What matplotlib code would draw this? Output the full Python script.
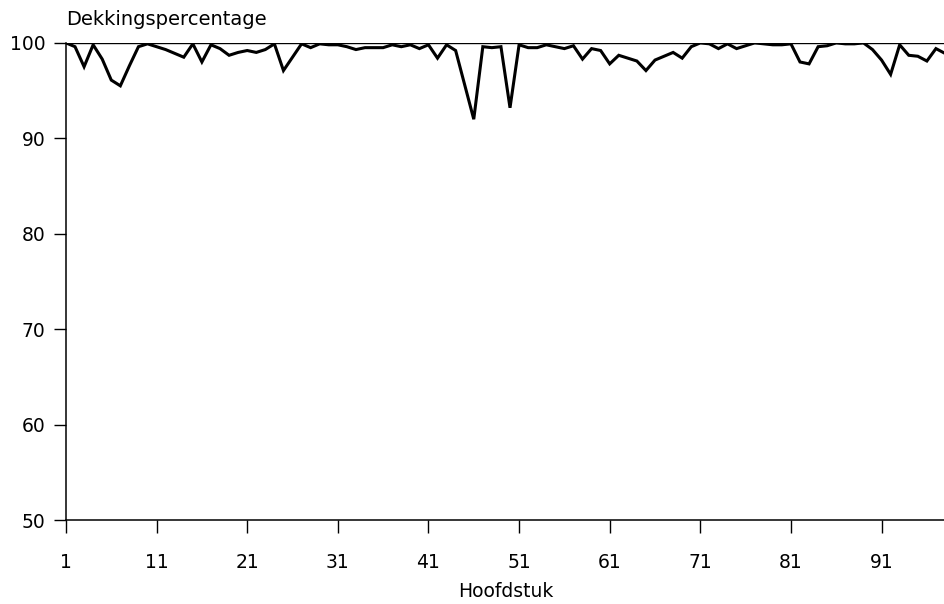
import matplotlib
matplotlib.use("Agg")
import matplotlib.pyplot as plt
import numpy as np

# Dekkingspercentage per hoofdstuk
hoofdstuk = np.arange(1, 99)
dekking = [
    100.0, 99.6, 97.5, 99.8, 98.3, 96.1, 95.5, 97.6, 99.6, 99.9,
    99.6, 99.3, 98.9, 98.5, 99.9, 98.0, 99.8, 99.4, 98.7, 99.0,
    99.2, 99.0, 99.3, 99.9, 97.1, 98.5, 99.9, 99.5, 99.9, 99.8,
    99.8, 99.6, 99.3, 99.5, 99.5, 99.5, 99.8, 99.6, 99.8, 99.4,
    99.8, 98.4, 99.8, 99.2, 95.6, 92.0, 99.6, 99.5, 99.6, 93.2,
    99.8, 99.5, 99.5, 99.8, 99.6, 99.4, 99.7, 98.3, 99.4, 99.2,
    97.8, 98.7, 98.4, 98.1, 97.1, 98.2, 98.6, 99.0, 98.4, 99.6,
    100.0, 99.9, 99.4, 99.9, 99.4, 99.7, 100.0, 99.9, 99.8, 99.8,
    99.9, 98.0, 97.8, 99.6, 99.7, 100.0, 99.9, 99.9, 100.0, 99.3,
    98.2, 96.7, 99.8, 98.7, 98.6, 98.1, 99.4, 98.9,
]
x_ticks = list(range(1, 92, 10))
y_ticks = list(range(50, 101, 10))

plt.rcParams["font.family"] = ["DejaVu Sans"]

fig = plt.figure(figsize=(9.45, 6.04), dpi=100)
ax = fig.add_axes([0.0698, 0.139, 0.9302, 0.79])

ax.axhline(100, color="black", linewidth=1.0, zorder=1)
ax.plot(hoofdstuk, dekking, color="black", linewidth=2.2,
        solid_joinstyle="miter", zorder=2)

ax.set_xlim(1, 98)
ax.set_ylim(50, 100)
ax.set_xticks(x_ticks)
ax.set_yticks(y_ticks)

for side in ("top", "right"):
    ax.spines[side].set_visible(False)
for side in ("left", "bottom"):
    ax.spines[side].set_linewidth(1.1)

ax.tick_params(axis="both", direction="out", length=9, width=1.0,
               labelsize=13.5, colors="black")
ax.tick_params(axis="x", pad=15)
ax.tick_params(axis="y", pad=6)

ax.set_xlabel("Hoofdstuk", fontsize=13.5, labelpad=7)
ax.text(0.0, 1.03, "Dekkingspercentage", transform=ax.transAxes,
        fontsize=14, ha="left", va="bottom")

fig.savefig("out.png", dpi=100)
